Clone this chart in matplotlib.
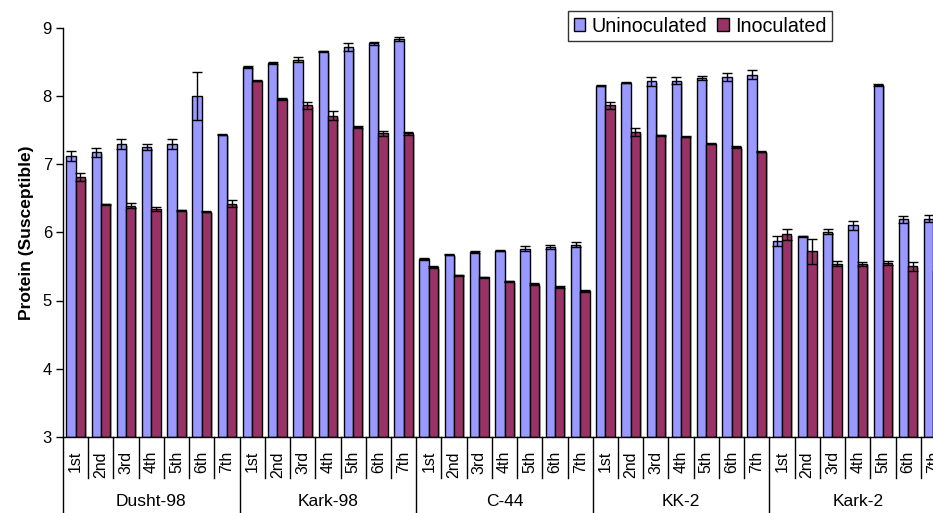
import matplotlib
matplotlib.use("Agg")
import matplotlib.pyplot as plt
import matplotlib.patheffects as pe
from matplotlib.transforms import blended_transform_factory
import numpy as np

plt.rcParams['font.family'] = ['Liberation Sans', 'DejaVu Sans']

# Data: protein content over seven cuttings for five varieties
varieties = ["Dusht-98", "Kark-98", "C-44", "KK-2", "Kark-2"]
stages = ["1st", "2nd", "3rd", "4th", "5th", "6th", "7th"]

uninoculated = [
    7.12, 7.17, 7.29, 7.25, 7.29, 8.00, 7.43,   # Dusht-98
    8.42, 8.48, 8.53, 8.65, 8.71, 8.77, 8.83,   # Kark-98
    5.61, 5.67, 5.71, 5.73, 5.76, 5.78, 5.82,   # C-44
    8.15, 8.19, 8.21, 8.22, 8.26, 8.28, 8.31,   # KK-2
    5.87, 5.94, 6.01, 6.10, 8.16, 6.19, 6.20,   # Kark-2
]
uninoculated_err = [
    0.07, 0.065, 0.07, 0.04, 0.07, 0.35, 0.005,
    0.01, 0.01, 0.04, 0.01, 0.06, 0.02, 0.03,
    0.01, 0.01, 0.01, 0.01, 0.04, 0.03, 0.03,
    0.01, 0.01, 0.06, 0.05, 0.03, 0.06, 0.06,
    0.07, 0.01, 0.04, 0.07, 0.01, 0.05, 0.05,
]
inoculated = [
    6.81, 6.41, 6.39, 6.34, 6.32, 6.30, 6.42,
    8.22, 7.95, 7.86, 7.71, 7.54, 7.45, 7.45,
    5.49, 5.37, 5.34, 5.28, 5.24, 5.20, 5.14,
    7.86, 7.47, 7.42, 7.40, 7.30, 7.25, 7.18,
    5.97, 5.72, 5.54, 5.54, 5.55, 5.50, 5.45,
]
inoculated_err = [
    0.06, 0.01, 0.04, 0.03, 0.01, 0.01, 0.05,
    0.01, 0.01, 0.05, 0.07, 0.01, 0.04, 0.02,
    0.01, 0.01, 0.01, 0.01, 0.01, 0.01, 0.01,
    0.05, 0.06, 0.01, 0.01, 0.01, 0.01, 0.01,
    0.08, 0.18, 0.04, 0.03, 0.03, 0.07, 0.03,
]

BLUE = "#9999FF"
PLUM = "#993366"
BASE = 3

W, H = 933, 513
fig = plt.figure(figsize=(W / 100, H / 100), dpi=100)
ax_left, ax_right, ax_top, ax_bot = 63, 946, 27.5, 437
ax = fig.add_axes([ax_left / W, 1 - ax_bot / H,
                   (ax_right - ax_left) / W, (ax_bot - ax_top) / H])

n = len(uninoculated)
x = np.arange(n)
w = 0.37
shadow = [pe.SimplePatchShadow(offset=(1.2, -1.2), shadow_rgbFace="#888888", alpha=0.6),
          pe.Normal()]

u_vals = np.array(uninoculated) - BASE
i_vals = np.array(inoculated) - BASE
bu = ax.bar(x - w / 2, u_vals, w, bottom=BASE, color=BLUE, edgecolor="black",
            linewidth=1.0, label="Uninoculated", zorder=2)
bi = ax.bar(x + w / 2, i_vals, w, bottom=BASE, color=PLUM, edgecolor="black",
            linewidth=1.0, label="Inoculated", zorder=2)
for b in list(bu) + list(bi):
    b.set_path_effects(shadow)

err_kw = dict(fmt="none", ecolor="black", elinewidth=1.0, capsize=3.3,
              capthick=1.0, zorder=3)
ax.errorbar(x - w / 2, uninoculated, yerr=uninoculated_err, **err_kw)
ax.errorbar(x + w / 2, inoculated, yerr=inoculated_err, **err_kw)

ax.set_xlim(-0.5, n - 0.5)
ax.set_ylim(3, 9)
ax.set_yticks(range(3, 10))
ax.tick_params(axis="y", direction="out", length=5, width=1, labelsize=12, pad=3)
ax.set_xticks([])
for s in ["top", "right"]:
    ax.spines[s].set_visible(False)
for s in ["left", "bottom"]:
    ax.spines[s].set_linewidth(1.0)

ax.set_ylabel("Protein (Susceptible)", fontsize=12.5, fontweight="bold", va="center")
ax.yaxis.set_label_coords(-(ax_left - 27) / (ax_right - ax_left), 0.5)

# Two-level category axis below the plot
ax_h = ax_bot - ax_top
tr = blended_transform_factory(ax.transData, ax.transAxes)
def ay(px):
    return -(px - ax_bot) / ax_h

for k in range(n + 1):
    xb = k - 0.5
    bottom = ay(513) if k % len(stages) == 0 else ay(478)
    ax.plot([xb, xb], [0, bottom], color="black", lw=1.0, transform=tr,
            clip_on=False, zorder=1)
for k in range(n):
    ax.text(k, ay(451), stages[k % len(stages)], rotation=90, ha="center",
            va="top", fontsize=11.5, transform=tr, clip_on=False)
for g, name in enumerate(varieties):
    cx = g * len(stages) + (len(stages) - 1) / 2
    ax.text(cx, ay(502), name, ha="center", va="center", fontsize=12.5,
            transform=tr, clip_on=False)

leg = fig.legend(handles=[bu, bi], loc="upper left",
                 bbox_to_anchor=(568 / W, 1 - 11 / H), ncol=2, fontsize=14.2,
                 frameon=True, fancybox=False, shadow=False, borderaxespad=0,
                 handlelength=0.6, handleheight=0.6, handletextpad=0.31,
                 columnspacing=0.5, borderpad=0.28)
leg.get_frame().set_edgecolor("black")
leg.get_frame().set_linewidth(1.0)
for h in leg.legend_handles:
    h.set_path_effects([])

fig.savefig("out.png", dpi=100)
